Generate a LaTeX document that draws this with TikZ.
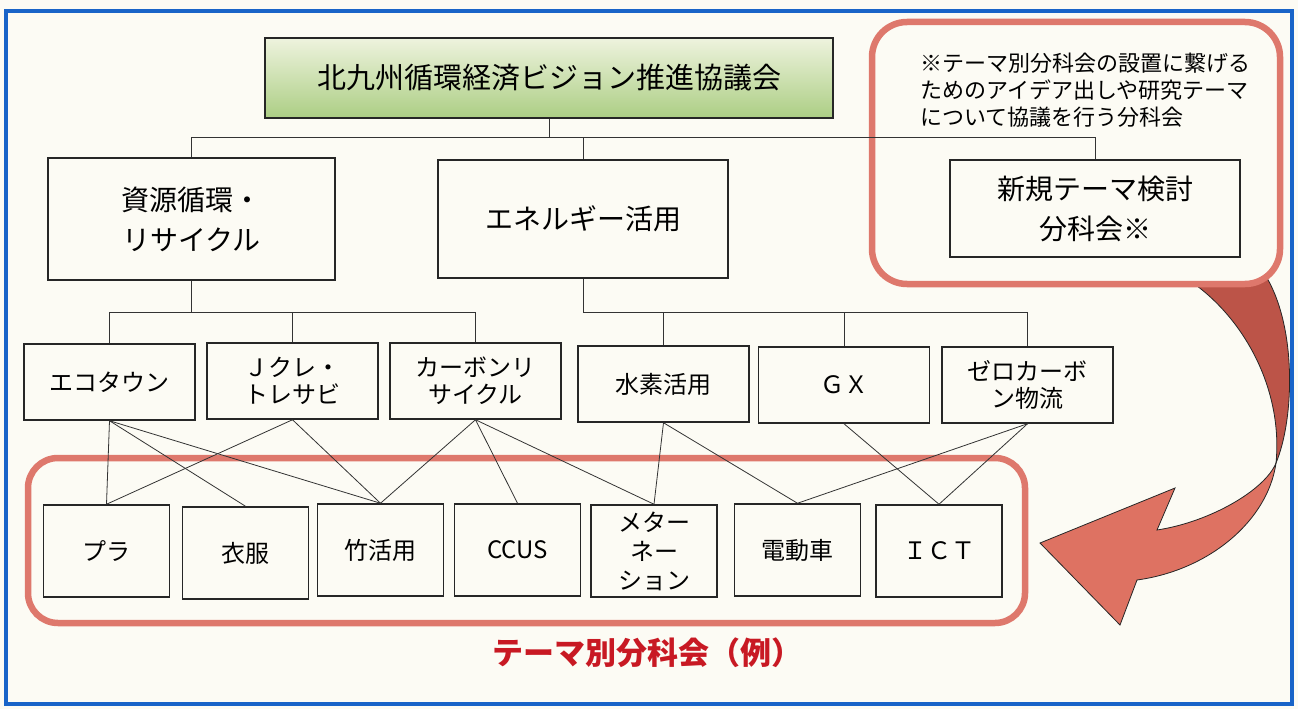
\documentclass[tikz,border=0pt]{standalone}
\usepackage{fontspec}
\setmainfont{Noto Sans CJK JP}
\definecolor{bg}{RGB}{252,251,244}
\definecolor{bord}{RGB}{25,100,200}
\definecolor{redbox}{RGB}{222,120,108}
\definecolor{arrdark}{RGB}{188,84,72}
\definecolor{arrlight}{RGB}{222,114,98}
\definecolor{titlered}{RGB}{200,25,35}
\definecolor{gtop}{RGB}{238,243,222}
\definecolor{gbot}{RGB}{172,206,132}
\begin{document}
\begin{tikzpicture}[x=1pt,y=-1pt,
  box/.style={draw=black!85, line width=1.5pt, fill=bg, inner sep=0pt, align=center},
  topbox/.style={box, minimum width=568pt, minimum height=80pt, top color=gtop, bottom color=gbot, font=\fontsize{29}{35}\selectfont},
  lvtwo/.style={box, font=\fontsize{28}{40}\selectfont},
  lvthree/.style={box, minimum width=171pt, minimum height=76pt, font=\fontsize{24}{27}\selectfont},
  lvfour/.style={box, minimum width=126pt, minimum height=92pt, font=\fontsize{24}{29}\selectfont},
  conn/.style={draw=black!80, line width=0.8pt},
  redframe/.style={draw=redbox, line width=6.5pt, fill=bg},
  arrowline/.style={draw=black!85, line width=0.8pt, line join=miter}
]
\useasboundingbox (0,0) rectangle (1298,709);
\fill[bg] (0,0) rectangle (1298,709);
\draw[bord, line width=4.5pt] (6,11) rectangle (1292,704);

% curved arrow
\path[fill=arrdark, arrowline] (1183,270) -- (1193,283) .. controls (1245,320) and (1283,390) .. (1276,463)
  .. controls (1294,420) and (1297,330) .. (1267,278) -- (1262,268) -- cycle;
\path[fill=arrlight, arrowline] (1276,463) .. controls (1265,490) and (1210,522) .. (1157,530)
  -- (1175,488) -- (1040,543) -- (1120,625) -- (1137,580)
  .. controls (1210,570) and (1268,520) .. (1276,463) -- cycle;

% red frames
\draw[redframe, rounded corners=35pt] (872,22) rectangle (1280,284);
\draw[redframe, rounded corners=30pt] (28,458) rectangle (1025,623);

% note
\node[anchor=west, align=left, inner sep=0pt, font=\fontsize{22}{27}\selectfont] (note) at (920,90)
  {※テーマ別分科会の設置に繋げる\\ためのアイデア出しや研究テーマ\\について協議を行う分科会};

% nodes
\node[topbox] (top) at (549,78) {北九州循環経済ビジョン推進協議会};

\node[lvtwo, minimum width=287pt, minimum height=122pt] (res) at (191.5,219) {資源循環・\\リサイクル};
\node[lvtwo, minimum width=290pt, minimum height=118pt] (ene) at (583,219) {エネルギー活用};
\node[lvtwo, minimum width=290pt, minimum height=97pt] (new) at (1095,208.5) {新規テーマ検討\\分科会※};

\node[lvthree] (eco) at (109.5,382) {エコタウン};
\node[lvthree] (jcre) at (292.5,381) {Ｊクレ・\\トレサビ};
\node[lvthree] (carb) at (475.5,381) {カーボンリ\\サイクル};
\node[lvthree] (h2) at (663.5,384) {水素活用};
\node[lvthree] (gx) at (844,385) {ＧＸ};
\node[lvthree] (zero) at (1027.5,385) {ゼロカーボ\\ン物流};

\node[lvfour] (pura) at (106.5,551) {プラ};
\node[lvfour] (ifuku) at (245.5,553) {衣服};
\node[lvfour] (take) at (380.5,550) {竹活用};
\node[lvfour] (ccus) at (517.5,550) {CCUS};
\node[lvfour] (meta) at (654,551) {メター\\ネー\\ション};
\node[lvfour] (ev) at (797.5,550) {電動車};
\node[lvfour] (ict) at (939,551) {ＩＣＴ};

\node[font=\fontsize{31}{36}\selectfont\bfseries, text=titlered] (lbl) at (647,653) {テーマ別分科会（例）};

% tree connectors
\coordinate (busa) at (0,137);
\coordinate (busb) at (0,312);
\draw[conn] (top.south) -- (top.south |- busa);
\draw[conn] (res.north) -- (res.north |- busa) -- (new.north |- busa) -- (new.north);
\draw[conn] (ene.north) -- (ene.north |- busa);

\draw[conn] (res.south) -- (res.south |- busb);
\draw[conn] (eco.north) -- (eco.north |- busb) -- (carb.north |- busb) -- (carb.north);
\draw[conn] (jcre.north) -- (jcre.north |- busb);

\draw[conn] (ene.south) -- (ene.south |- busb) -- (zero.north |- busb) -- (zero.north);
\draw[conn] (h2.north) -- (h2.north |- busb);
\draw[conn] (gx.north) -- (gx.north |- busb);

% cross connectors
\draw[conn] (eco.south) -- (pura.north);
\draw[conn] (eco.south) -- (ifuku.north);
\draw[conn] (eco.south) -- (take.north);
\draw[conn] (jcre.south) -- (pura.north);
\draw[conn] (jcre.south) -- (take.north);
\draw[conn] (carb.south) -- (take.north);
\draw[conn] (carb.south) -- (ccus.north);
\draw[conn] (carb.south) -- (meta.north);
\draw[conn] (h2.south) -- (meta.north);
\draw[conn] (h2.south) -- (ev.north);
\draw[conn] (gx.south) -- (ict.north);
\draw[conn] (zero.south) -- (ev.north);
\draw[conn] (zero.south) -- (ict.north);
\end{tikzpicture}
\end{document}
